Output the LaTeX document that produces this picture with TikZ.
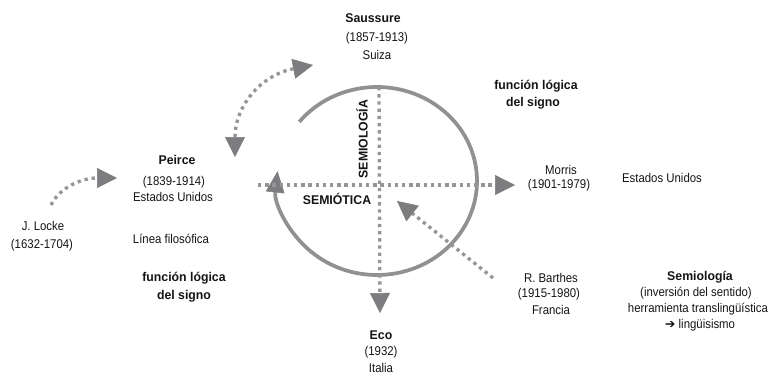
\documentclass[tikz,border=0pt]{standalone}
\usepackage{fontspec}
\setmainfont{Liberation Sans}[FakeStretch=0.9]
\newfontfamily\boldfam{Liberation Sans}[FakeStretch=0.97]
\newfontfamily\symfam{DejaVu Sans}
\usetikzlibrary{arrows.meta}
\definecolor{arcgray}{RGB}{145,145,148}
\definecolor{dotgray}{RGB}{150,150,153}
\definecolor{headgray}{RGB}{125,125,128}
\definecolor{txt}{RGB}{20,20,20}
\tikzset{
  lbl/.style={inner sep=0pt, text=txt, font=\fontsize{9.5}{11}\selectfont},
  ttl/.style={inner sep=0pt, text=txt, font=\boldfam\bfseries\fontsize{9.5}{11}\selectfont},
  dotline/.style={draw=dotgray, line width=2.5pt, dash pattern=on 2.5pt off 2.9pt},
  bighead/.tip={Triangle[length=15pt,width=15pt,color=headgray,fill=headgray,line width=0.4pt]},
  archead/.tip={Triangle[length=16pt,width=14pt,color=headgray,fill=headgray,line width=0.4pt]},
  arcline/.style={draw=arcgray, line width=2.8pt},
}
\begin{document}
\begin{tikzpicture}[x=0.75pt,y=-0.75pt]
\useasboundingbox (0,0) rectangle (771,375);
\coordinate (c) at (377,181);
% texts
\node[ttl] (saussure) at (373,18) {Saussure};
\node[lbl] (saussureyr) at (377,38) {(1857-1913)};
\node[lbl] (saussurec) at (377,55) {Suiza};
\node[ttl] (flr1) at (536,86) {función lógica};
\node[ttl] (flr2) at (533,103) {del signo};
\node[ttl, rotate=90] (semiologia) at (362,139) {SEMIOLOGÍA};
\node[ttl] (semiotica) at (337,199) {SEMIÓTICA};
\node[ttl] (peirce) at (177,160) {Peirce};
\node[lbl] (peirceyr) at (174,182) {(1839-1914)};
\node[lbl] (peircec) at (173,197) {Estados Unidos};
\node[lbl] (locke) at (43,226) {J. Locke};
\node[lbl] (lockeyr) at (42,245) {(1632-1704)};
\node[lbl] (linea) at (171,239) {Línea filosófica};
\node[ttl] (fll1) at (184,278) {función lógica};
\node[ttl] (fll2) at (184,296) {del signo};
\node[lbl] (morris) at (561,170) {Morris};
\node[lbl] (morrisyr) at (559,185) {(1901-1979)};
\node[lbl] (morrisc) at (662,178) {Estados Unidos};
\node[lbl] (barthes) at (551,278) {R. Barthes};
\node[lbl] (barthesyr) at (549,294) {(1915-1980)};
\node[lbl] (barthesc) at (551,310) {Francia};
\node[ttl] (semio) at (700,277) {Semiología};
\node[lbl] (semio2) at (696,293) {(inversión del sentido)};
\node[lbl] (semio3) at (698,309) {herramienta translingüística};
\node[lbl] (semio4) at (700,325) {{\symfam\fontsize{9.5}{10}\selectfont ➔}\ lingüisismo};
\node[ttl] (eco) at (381,335) {Eco};
\node[lbl] (ecoyr) at (381,352) {(1932)};
\node[lbl] (ecoc) at (381,368) {Italia};
% connector end points
\coordinate (hstart) at (258,185);
\coordinate (htip) at (515,185);
\coordinate (vstart) at (379,87);
\coordinate (vtip) at (380,313);
\coordinate (sa) at (235,157);
\coordinate (sb) at (313,65);
\coordinate (la) at (51,205);
\coordinate (lb) at (117,178);
\coordinate (ba) at (493,278);
\coordinate (bb) at (397,201);
\coordinate (arcstart) at ([shift={(-141:100 and 94)}]c);
% circle arc
\draw[arcline, -{archead}] (arcstart) arc[start angle=-141, end angle=186, x radius=100, y radius=94];
% dotted connectors
\draw[dotline, -{bighead}] (hstart) -- (htip);
\draw[dotline, -{bighead}] (vstart) -- (vtip);
\draw[dotline, {bighead}-{bighead}] (sa) .. controls (235,106) and (261,75) .. (sb);
\draw[dotline, -{bighead}] (la) .. controls (60,187) and (82,178) .. (lb);
\draw[dotline, -{bighead}] (ba) -- (bb);
\end{tikzpicture}
\end{document}
